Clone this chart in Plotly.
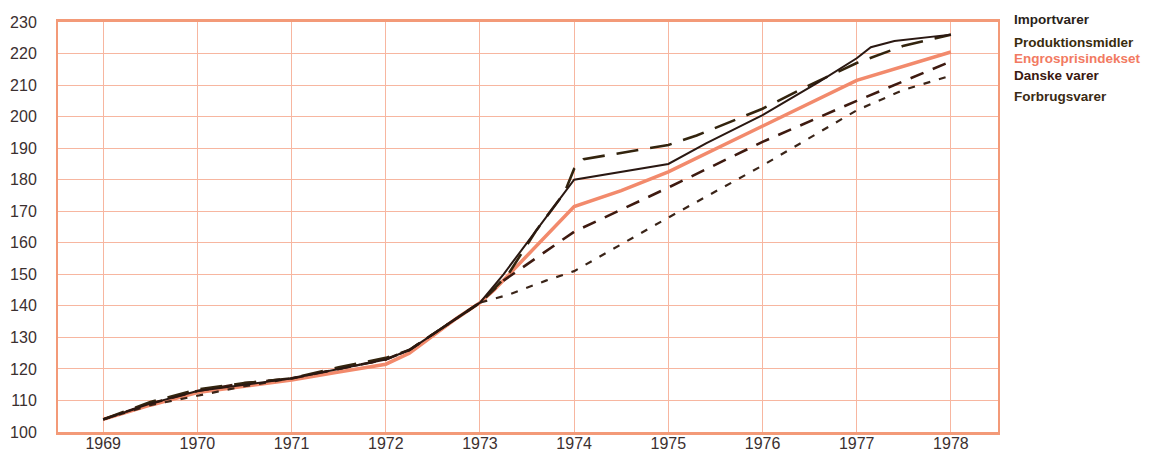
import plotly.graph_objects as go

# Common early segment (all series bundled)
early_x = [1969, 1969.5, 1970, 1970.5, 1971, 1971.5, 1972, 1972.25, 1972.5, 1972.75, 1973]
early_y = [104, 109, 113, 115, 117, 120, 123, 126, 131, 136, 141]

import_x = early_x + [1973.25, 1974, 1975, 1975.4, 1976, 1976.6, 1977, 1977.15, 1977.4, 1978]
import_y = early_y + [150, 180, 185, 191.5, 200.5, 211, 218.5, 222, 224, 226]

prod_x = early_x + [1973.3, 1973.6, 1973.9, 1974, 1974.1, 1975, 1975.3, 1976, 1976.5, 1977, 1977.5, 1978]
prod_y = [104, 109.5, 113.5, 115.5, 117, 120.5, 123.5, 126, 131, 136, 141] + [150, 164, 176, 183.5, 186.5, 191, 194, 202.5, 210, 217, 222.5, 226]

engros_x = early_x + [1973.15, 1974, 1974.5, 1975, 1976, 1977, 1978]
engros_y = [104, 108.5, 112.5, 114.5, 116.5, 119, 121.5, 125, 130.5, 136, 141] + [145, 171.5, 176.5, 182.5, 197, 211.5, 220.5]

danske_x = early_x + [1973.25, 1974, 1975, 1976, 1977, 1978]
danske_y = [104, 109, 113, 115.5, 117, 120, 123, 126, 131, 136, 141] + [148, 163.5, 177.5, 192, 205, 217.5]

forbrug_x = early_x + [1973.3, 1973.7, 1974, 1975, 1976, 1977, 1977.5, 1978]
forbrug_y = [104, 108.5, 111.5, 114.5, 117, 120, 123, 126, 131, 136, 141] + [143.5, 148, 151, 168, 184.5, 202, 208.5, 213]

series_names = ["Importvarer", "Produktionsmidler", "Engrosprisindekset", "Danske varer", "Forbrugsvarer"]
legend_colors = ["#2a1f1a", "#3a2c0c", "#f27a62", "#3a1810", "#3a2a14"]

x_ticks = list(range(1969, 1979))
y_ticks = list(range(100, 231, 10))

fig = go.Figure()

fig.add_trace(go.Scatter(x=engros_x, y=engros_y, mode="lines", name=series_names[2],
                         line=dict(color="#f28a6c", width=3.5)))
fig.add_trace(go.Scatter(x=forbrug_x, y=forbrug_y, mode="lines", name=series_names[4],
                         line=dict(color="#3a2418", width=2.2, dash="7px,9px")))
fig.add_trace(go.Scatter(x=danske_x, y=danske_y, mode="lines", name=series_names[3],
                         line=dict(color="#3e1a10", width=2.6, dash="14px,10px")))
fig.add_trace(go.Scatter(x=prod_x, y=prod_y, mode="lines", name=series_names[1],
                         line=dict(color="#33240e", width=2.6, dash="22px,12px")))
fig.add_trace(go.Scatter(x=import_x, y=import_y, mode="lines", name=series_names[0],
                         line=dict(color="#2a1812", width=2)))

grid_col = "#f7b6a0"
tick_font = dict(family="Liberation Sans, Arial, sans-serif", size=16, color="#3b3030")

# page body has an 8px margin; compensate so plot area sits at x 58-998, y 22-432
OFF = 8
W, H = 1151 - OFF, 454 - OFF
L, R, T, B = 58 - OFF, 1151 - 998, 22 - OFF, 454 - 432

fig.update_layout(
    width=W, height=H,
    margin=dict(l=L, r=R, t=T, b=B, autoexpand=False),
    paper_bgcolor="white", plot_bgcolor="white",
    showlegend=False,
    xaxis=dict(range=[1968.52, 1978.5], tickvals=x_ticks, ticktext=[str(v) for v in x_ticks],
               showgrid=True, gridcolor=grid_col, gridwidth=1.2, zeroline=False,
               showline=True, linecolor="#f39a78", linewidth=2.5, mirror=True,
               tickfont=tick_font, ticks="", ticklabelstandoff=-5, automargin=False),
    yaxis=dict(range=[100, 230], tickvals=y_ticks,
               showgrid=True, gridcolor=grid_col, gridwidth=1.2, zeroline=False,
               showline=True, linecolor="#f39a78", linewidth=2, mirror=True,
               tickfont=tick_font, ticks="", ticklabelstandoff=16, automargin=False),
)

legend_y = [20, 42, 59, 75, 97]
for name, col, ypx in zip(series_names, legend_colors, legend_y):
    fig.add_annotation(text="<b>" + name + "</b>", xref="paper", yref="paper",
                       x=(1012 - 58) / (998 - 58), y=1 - (ypx - 22) / (432 - 22),
                       xanchor="left", yanchor="middle", showarrow=False,
                       font=dict(family="Liberation Sans, Arial, sans-serif", size=13.5, color=col))

fig.write_html("out.html")
